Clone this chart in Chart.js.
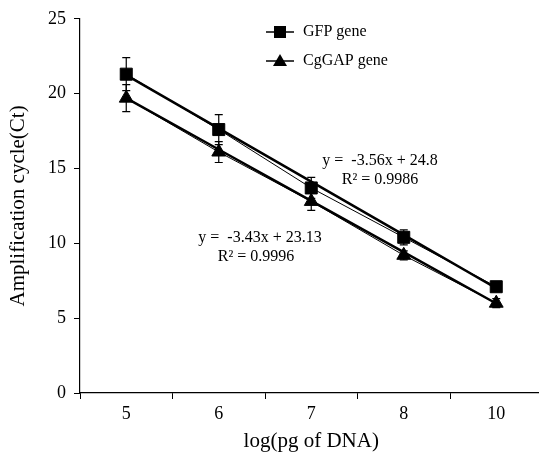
<!DOCTYPE html>
<html>
<head>
<meta charset="utf-8">
<script src="https://cdn.jsdelivr.net/npm/chart.js@4"></script>
<style>
  html, body { margin: 0; background: #fff; overflow: hidden; }
  #wrap { width: 552px; height: 458px; }
</style>
</head>
<body>
<div id="wrap"><canvas id="chart"></canvas></div>
<script>
const labels = ['5', '6', '7', '8', '10'];
const gfp = [21.3, 17.6, 13.7, 10.4, 7.1];
const gfpErr = [1.1, 1.0, 0.7, 0.5, 0.2];
const gfpTrend = [21.24, 17.68, 14.12, 10.56, 7.0];
const gap = [19.7, 16.1, 12.8, 9.2, 6.0];
const gapErr = [0.9, 0.7, 0.6, 0.3, 0.3];
const gapTrend = [19.7, 16.27, 12.84, 9.41, 5.98];

const serif = 'Liberation Serif, Times New Roman, serif';

// error bars for the measured series
const errorBars = {
    id: 'errorBars',
    afterDatasetsDraw(chart) {
        const c = chart.ctx;
        const x = chart.scales.x, y = chart.scales.y;
        c.save();
        c.strokeStyle = '#000';
        c.lineWidth = 1.2;
        [[gfp, gfpErr], [gap, gapErr]].forEach(([vals, errs]) => {
            vals.forEach((v, i) => {
                const px = x.getPixelForValue(i);
                const top = y.getPixelForValue(v + errs[i]);
                const bot = y.getPixelForValue(v - errs[i]);
                c.beginPath();
                c.moveTo(px, top); c.lineTo(px, bot);
                c.moveTo(px - 4, top); c.lineTo(px + 4, top);
                c.moveTo(px - 4, bot); c.lineTo(px + 4, bot);
                c.stroke();
            });
        });
        c.restore();
    }
};

// legend and regression text
const notes = {
    id: 'notes',
    afterDraw(chart) {
        const c = chart.ctx;
        c.save();
        c.fillStyle = '#000';
        c.strokeStyle = '#000';
        c.font = '16px ' + serif;
        c.textBaseline = 'middle';
        const items = [['GFP gene', 'rect', 32], ['CgGAP gene', 'triangle', 61]];
        items.forEach(([t, shape, ly]) => {
            c.lineWidth = 1.5;
            c.beginPath(); c.moveTo(266, ly); c.lineTo(294, ly); c.stroke();
            c.beginPath();
            if (shape === 'rect') c.rect(274, ly - 6, 12, 12);
            else { c.moveTo(280, ly - 7); c.lineTo(287, ly + 5); c.lineTo(273, ly + 5); c.closePath(); }
            c.fill();
            c.textAlign = 'left';
            c.fillText(t, 303, ly);
        });
        c.textAlign = 'center';
        c.fillText('y =  -3.56x + 24.8', 380, 161);
        c.fillText('R² = 0.9986', 380, 180);
        c.fillText('y =  -3.43x + 23.13', 260, 238);
        c.fillText('R² = 0.9996', 256, 257);
        c.restore();
    }
};

const ctx = document.getElementById('chart').getContext('2d');

const chart = new Chart(ctx, {
    type: 'line',
    data: {
        labels,
        datasets: [
            { label: 'GFP trend', data: gfpTrend, borderColor: '#000', borderWidth: 2.5, pointRadius: 0 },
            { label: 'CgGAP trend', data: gapTrend, borderColor: '#000', borderWidth: 2.5, pointRadius: 0 },
            { label: 'GFP gene', data: gfp, borderColor: '#000', borderWidth: 1, pointStyle: 'rect',
              pointRadius: 8.5, backgroundColor: '#000', pointBackgroundColor: '#000' },
            { label: 'CgGAP gene', data: gap, borderColor: '#000', borderWidth: 1, pointStyle: 'triangle',
              pointRadius: 8, backgroundColor: '#000', pointBackgroundColor: '#000' }
        ]
    },
    options: {
        responsive: true,
        maintainAspectRatio: false,
        animation: false,
        layout: { padding: { top: 15, right: 0 } },
        plugins: { legend: { display: false }, tooltip: { enabled: false } },
        scales: {
            x: {
                offset: true,
                grid: { offset: true, drawOnChartArea: false, drawTicks: true, tickLength: 6, color: '#000' },
                border: { display: true, color: '#000', width: 1.2 },
                ticks: { color: '#000', font: { family: serif, size: 18 }, padding: 4 },
                title: { display: true, text: 'log(pg of DNA)', color: '#000', font: { family: serif, size: 21 }, padding: { top: 6 } },
                afterFit(s) { s.height = 65; }
            },
            y: {
                min: 0, max: 25,
                ticks: { stepSize: 5, color: '#000', font: { family: serif, size: 18 }, padding: 8 },
                grid: { drawOnChartArea: false, drawTicks: true, tickLength: 6, color: '#000' },
                border: { display: true, color: '#000', width: 1.2 },
                title: { display: true, text: 'Amplification cycle(Ct)', color: '#000', font: { family: serif, size: 21 }, padding: { top: 6, bottom: 0 } },
                afterFit(s) { s.width = 80; }
            }
        }
    },
    plugins: [errorBars, notes]
});
</script>
</body>
</html>
